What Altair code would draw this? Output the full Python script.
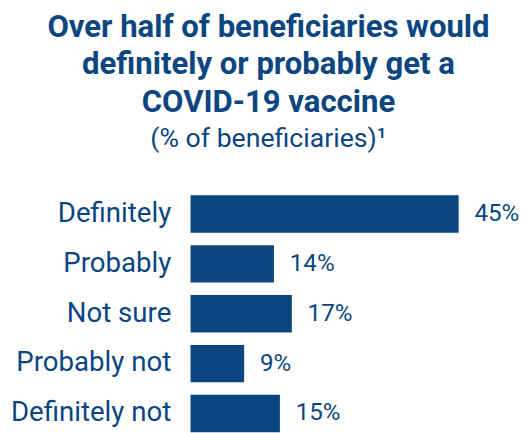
import altair as alt
import pandas as pd

categories = ["Definitely", "Probably", "Not sure", "Probably not", "Definitely not"]
values = [45, 14, 17, 9, 15]
labels = ["45%", "14%", "17%", "9%", "15%"]

title_lines = ["Over half of beneficiaries would", "definitely or probably get a", "COVID-19 vaccine"]
subtitle = "(% of beneficiaries)\u00b9"

df = pd.DataFrame({"cat": categories, "val": values, "lab": labels})
color = "#0b4681"

base = alt.Chart(df).encode(
    y=alt.Y(
        "cat:N",
        sort=categories,
        scale=alt.Scale(paddingInner=0.25, paddingOuter=0, range=[0, 240]),
        axis=alt.Axis(
            title=None, domain=False, ticks=False, labelFontSize=28,
            labelColor=color, labelFont="Roboto", labelPadding=20, labelLimit=300,
        ),
    ),
    x=alt.X("val:Q", scale=alt.Scale(domain=[0, 50]), axis=None),
)

bars = base.mark_bar(color=color)
text = base.mark_text(align="left", dx=16, fontSize=24.5, font="Roboto", color=color).encode(text="lab:N")

chart = (
    (bars + text)
    .properties(
        width=302,
        height=240,
        title=alt.TitleParams(
            text=title_lines,
            subtitle=subtitle,
            anchor="middle",
            dx=-72,
            font="Roboto",
            fontSize=31.5,
            fontWeight="bold",
            color=color,
            lineHeight=38,
            subtitleFont="Roboto",
            subtitleFontSize=27,
            subtitleColor=color,
            subtitlePadding=8,
            offset=44,
        ),
        autosize=alt.AutoSizeParams(type="none"),
        padding={"left": 185, "top": 187, "right": 35, "bottom": 0},
    )
    .configure_view(stroke=None)
)

chart.save("out.html", embed_options={"renderer": "svg", "actions": False})
